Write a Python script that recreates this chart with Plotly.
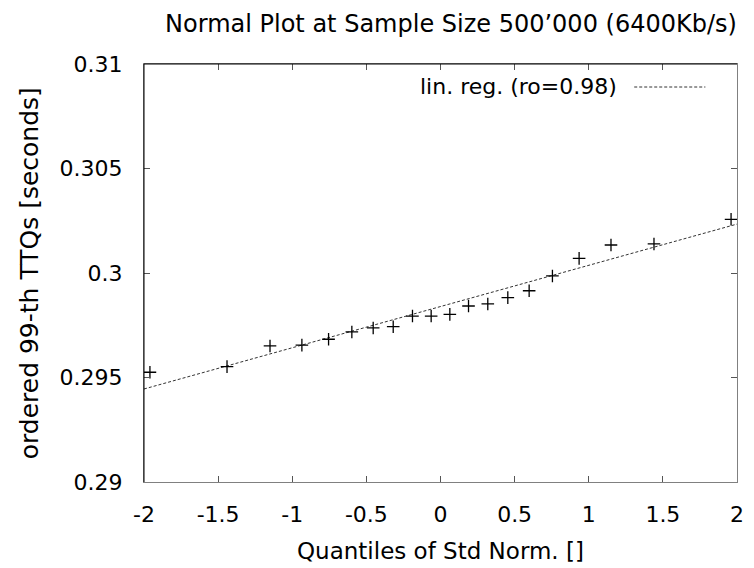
import plotly.graph_objects as go

# normal quantiles vs ordered 99-th TTQs
quantiles = [-1.96, -1.44, -1.15, -0.935, -0.755, -0.598, -0.454, -0.319, -0.189, -0.063,
             0.063, 0.189, 0.319, 0.454, 0.598, 0.755, 0.935, 1.15, 1.44, 1.96]
ttq = [0.29525, 0.29552, 0.29651, 0.29655, 0.29683, 0.29718, 0.29737, 0.29743, 0.29794, 0.29794,
       0.29802, 0.29842, 0.29852, 0.29882, 0.29915, 0.29986, 0.30070, 0.30134, 0.30139, 0.30257]

# regression line end points
reg_x = [-2, 2]
reg_y = [0.29445, 0.30234]

x_ticks = [-2, -1.5, -1, -0.5, 0, 0.5, 1, 1.5, 2]
x_labels = ["-2", "-1.5", "-1", "-0.5", "0", "0.5", "1", "1.5", "2"]
y_ticks = [0.29, 0.295, 0.3, 0.305, 0.31]
y_labels = ["0.29", "0.295", "0.3", "0.305", "0.31"]

font = "DejaVu Sans, Liberation Sans, sans-serif"

# the page body has an 8px margin, so the figure is sized/placed to compensate
W, H = 746, 560

fig = go.Figure()
fig.add_trace(go.Scatter(
    x=reg_x, y=reg_y, mode="lines",
    line=dict(color="#333333", width=1, dash="3px,2px"),
    showlegend=False))
fig.add_trace(go.Scatter(
    x=quantiles, y=ttq, mode="markers",
    marker=dict(symbol="cross-thin", size=9, line=dict(color="black", width=1.3)),
    showlegend=False))

axis = dict(showgrid=False, zeroline=False, showline=True, linecolor="#808080",
            linewidth=1, mirror="ticks", ticks="inside", ticklen=6, tickcolor="#555555",
            tickfont=dict(family=font, size=22, color="black"))

fig.update_xaxes(range=[-2, 2], tickvals=x_ticks, ticktext=x_labels,
                 ticklabelstandoff=13, **axis)
fig.update_yaxes(range=[0.29, 0.31], tickvals=y_ticks, ticktext=y_labels,
                 ticklabelstandoff=16, **axis)

fig.update_layout(
    width=W, height=H,
    margin=dict(l=136, r=10, t=56, b=86),
    paper_bgcolor="white", plot_bgcolor="white",
    font=dict(family=font, size=22, color="black"),
    title=dict(text="Normal Plot at Sample Size 500’000 (6400Kb/s)",
               x=443 / W, xanchor="center", y=1 - 16 / H, yanchor="middle",
               font=dict(family=font, size=24, color="black")),
    annotations=[
        dict(text="Quantiles of Std Norm. []", xref="paper", yref="paper",
             x=0.5, y=(482 - 551) / 418, xanchor="center", yanchor="middle",
             showarrow=False, font=dict(size=23)),
        dict(text="ordered 99-th TTQs [seconds]", xref="paper", yref="paper",
             x=(28 - 144) / 600, y=0.5, xanchor="center", yanchor="middle",
             textangle=-90, showarrow=False, font=dict(size=25)),
        dict(text="lin. reg. (ro=0.98)", xref="paper", yref="paper",
             x=(625 - 144) / 600, y=(482 - 86) / 418, xanchor="right", yanchor="middle",
             showarrow=False, font=dict(size=22)),
    ],
    shapes=[
        # darker left and top border, as in the original
        dict(type="line", xref="paper", yref="paper", x0=0, x1=0, y0=0, y1=1,
             line=dict(color="black", width=1)),
        dict(type="line", xref="paper", yref="paper", x0=0, x1=1, y0=1, y1=1,
             line=dict(color="black", width=1)),
        # legend sample for the regression line
        dict(type="line", xref="paper", yref="paper",
             x0=(640 - 144) / 600, x1=(712 - 144) / 600,
             y0=(482 - 87) / 418, y1=(482 - 87) / 418,
             line=dict(color="#333333", width=1, dash="3px,2px")),
    ],
)

fig.write_html("out.html")
